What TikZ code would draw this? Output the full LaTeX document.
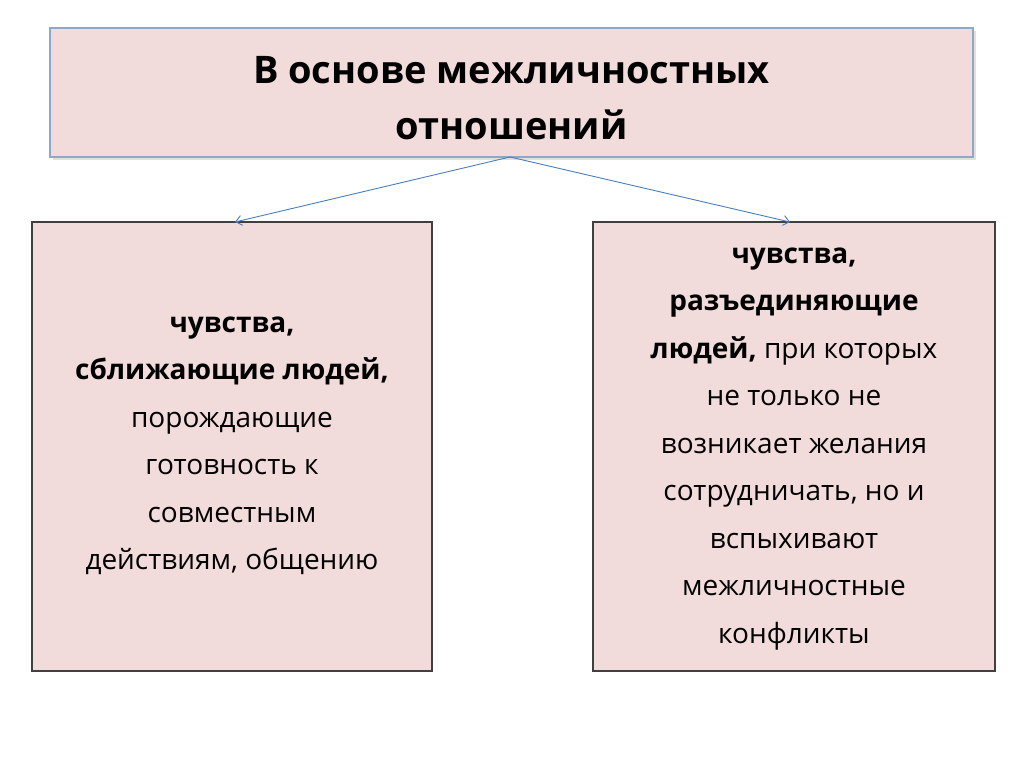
\documentclass[tikz,border=0pt]{standalone}
\usepackage{fontspec}
\setmainfont{Open Sans}
\usetikzlibrary{arrows.meta}
\definecolor{boxfill}{HTML}{F2DCDB}
\definecolor{topline}{HTML}{8EA9C8}
\definecolor{arr}{HTML}{4A7EBB}
\tikzset{
  pinkbox/.style={draw=#1, fill=boxfill, line width=1.2pt, inner sep=0pt},
  conn/.style={draw=arr, line width=0.9pt, -{Straight Barb[length=6pt,width=10pt]}}
}
\begin{document}
\begin{tikzpicture}[x=1pt,y=-1pt]
\useasboundingbox (0,0) rectangle (1024,767);
\fill[black!12] (53,31) rectangle (976,160);
\draw[pinkbox=topline] (50,28) rectangle (973,157);
\node[align=center, font=\fontsize{38}{56}\selectfont\bfseries] (title) at (511.5,98) {В основе межличностных\\отношений};
\coordinate (src) at (510,157);
\draw[pinkbox=black!75] (32,222) rectangle (432,671);
\draw[pinkbox=black!75] (593,222) rectangle (995,671);
\coordinate (lt) at (235,222);
\coordinate (rt) at (790,222);
\draw[conn] (src) -- (lt);
\draw[conn] (src) -- (rt);
\node[align=center, font=\fontsize{28}{47.5}\selectfont] (left) at (232,446) {\textbf{чувства,}\\\textbf{сближающие людей,}\\порождающие\\готовность к\\совместным\\действиям, общению};
\node[align=center, font=\fontsize{28}{47.5}\selectfont] (right) at (794,449) {\textbf{чувства,}\\\textbf{разъединяющие}\\\textbf{людей,} при которых\\не только не\\возникает желания\\сотрудничать, но и\\вспыхивают\\межличностные\\конфликты};
\end{tikzpicture}
\end{document}
